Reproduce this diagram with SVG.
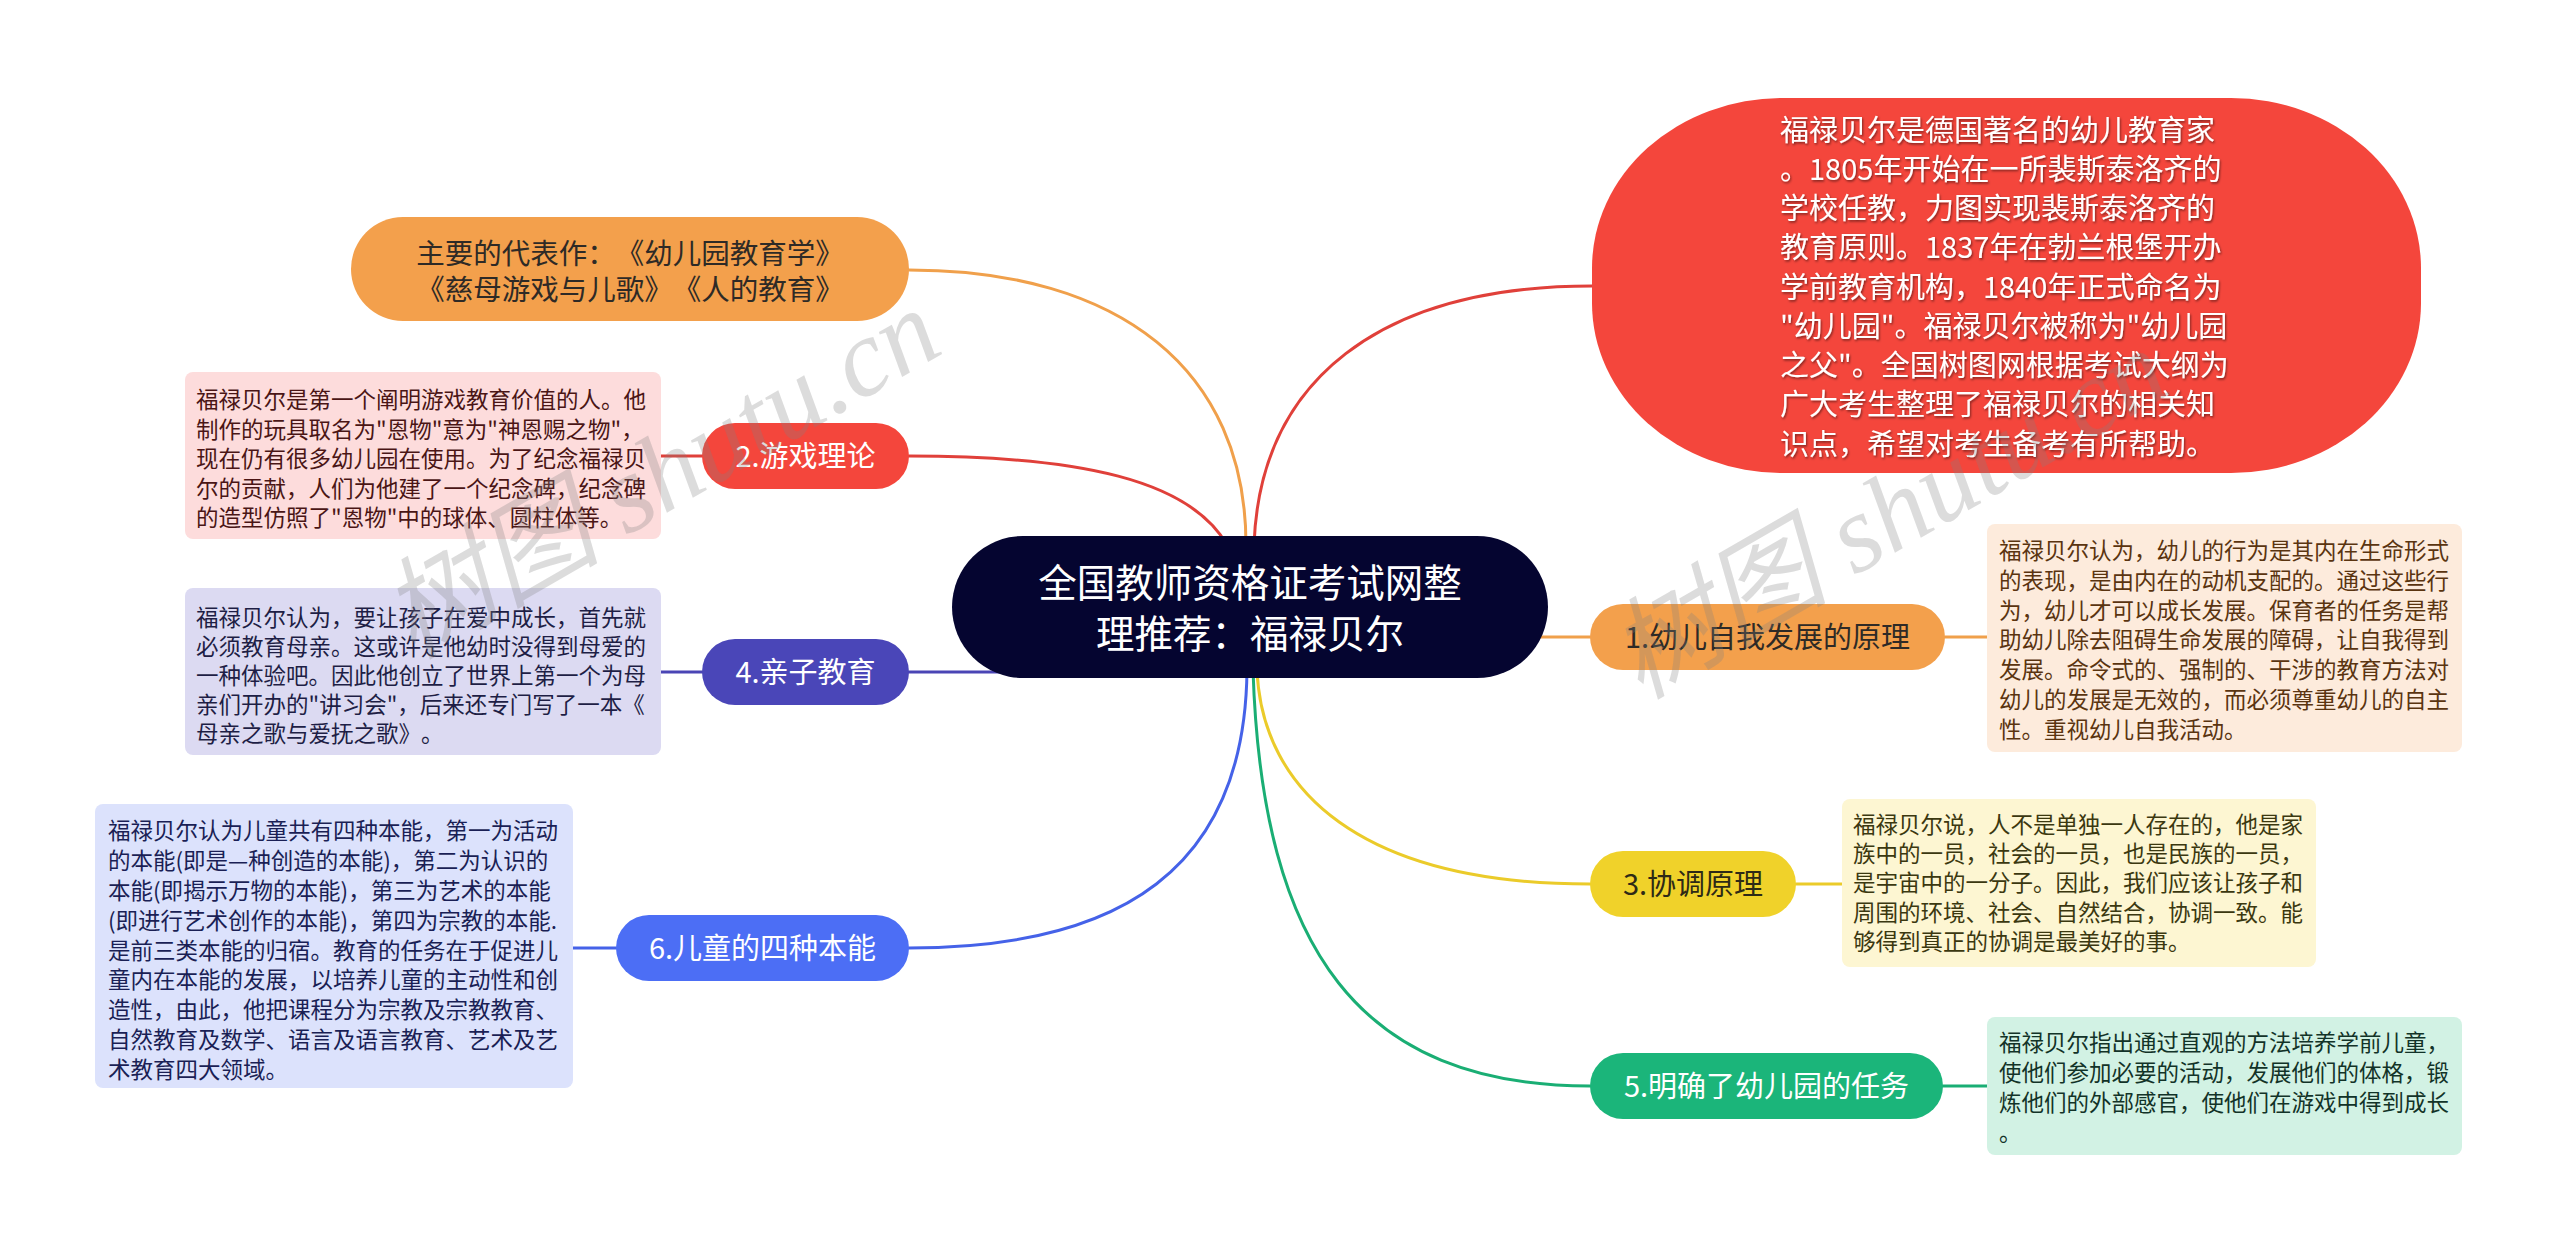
<svg xmlns="http://www.w3.org/2000/svg" width="2560" height="1253" viewBox="0 0 2560 1253">
<defs>
<style>
text{font-family:"Noto Sans CJK SC","Microsoft YaHei",sans-serif;text-spacing-trim:space-all}
.c{fill:none;stroke-width:3;stroke-linecap:round}
.dt{font-size:22.5px}
.bn{font-size:29px;text-anchor:middle}
.wm{font-family:"Liberation Serif","Noto Sans CJK SC",serif;font-style:italic;font-size:110px;fill:#808080;fill-opacity:.28}
</style>
<filter id="sh" x="-5%" y="-5%" width="110%" height="110%"><feDropShadow dx="1" dy="1.5" stdDeviation="1" flood-color="#000" flood-opacity=".5"/></filter>
</defs>
<rect width="2560" height="1253" fill="#fff"/>

<g id="connectors">
  <path class="c" stroke="#F0A04B" d="M909,270 C1120,270 1246,370 1246,545"/>
  <path class="c" stroke="#E0403A" d="M909,456 C1080,456 1190,480 1227,545"/>
  <path class="c" stroke="#E0403A" d="M1254,545 C1260,380 1380,286 1592,286"/>
  <path class="c" stroke="#4A45B5" d="M909,672 L1100,672"/>
  <path class="c" stroke="#F0A04B" d="M1400,637 L1590,637"/>
  <path class="c" stroke="#4562E8" d="M1247,670 C1245,870 1120,948 909,948"/>
  <path class="c" stroke="#EBCB2A" d="M1257,670 C1262,790 1360,884 1590,884"/>
  <path class="c" stroke="#1AAE74" d="M1253,670 C1262,950 1360,1086 1590,1086"/>
  <path class="c" stroke="#E0403A" d="M702,456 L661,456"/>
  <path class="c" stroke="#4A45B5" d="M702,672 L661,672"/>
  <path class="c" stroke="#4562E8" d="M616,948 L573,948"/>
  <path class="c" stroke="#F0A04B" d="M1945,637 L1987,637"/>
  <path class="c" stroke="#EBCB2A" d="M1796,884 L1842,884"/>
  <path class="c" stroke="#1AAE74" d="M1943,1086 L1987,1086"/>
</g>

<g id="root">
  <rect x="952" y="536" width="596" height="142" rx="71" fill="#050530"/>
  <text x="1250" y="597" font-size="38.5" fill="#fff" text-anchor="middle">全国教师资格证考试网整</text>
  <text x="1250" y="648" font-size="38.5" fill="#fff" text-anchor="middle">理推荐：福禄贝尔</text>
</g>

<g id="intro">
  <rect x="1592" y="98" width="829" height="375" rx="190" ry="170" fill="#F4463C"/>
  <g font-size="29" fill="#fff" filter="url(#sh)">
    <text x="1780" y="140.5">福禄贝尔是德国著名的幼儿教育家</text>
    <text x="1780" y="179.8">。1805年开始在一所裴斯泰洛齐的</text>
    <text x="1780" y="219">学校任教，力图实现裴斯泰洛齐的</text>
    <text x="1780" y="258.3">教育原则。1837年在勃兰根堡开办</text>
    <text x="1780" y="297.5">学前教育机构，1840年正式命名为</text>
    <text x="1780" y="336.8">"幼儿园"。福禄贝尔被称为"幼儿园</text>
    <text x="1780" y="376">之父"。全国树图网根据考试大纲为</text>
    <text x="1780" y="415.3">广大考生整理了福禄贝尔的相关知</text>
    <text x="1780" y="454.5">识点，希望对考生备考有所帮助。</text>
  </g>
</g>

<g id="works">
  <rect x="351" y="217" width="558" height="104" rx="52" fill="#F3A04C"/>
  <text x="630" y="263.5" font-size="28.5" fill="#2e2a26" text-anchor="middle">主要的代表作：《幼儿园教育学》</text>
  <text x="630" y="300" font-size="28.5" fill="#2e2a26" text-anchor="middle">《慈母游戏与儿歌》《人的教育》</text>
</g>

<g id="n2">
  <rect x="702" y="423" width="207" height="66" rx="33" fill="#F4463C"/>
  <text class="bn" x="805.5" y="466.5" fill="#fff">2.游戏理论</text>
</g>
<g id="n2d">
  <rect x="185" y="372" width="476" height="167" rx="8" fill="#FDDCDC"/>
  <g class="dt" fill="#4a1515">
    <text x="196" y="408">福禄贝尔是第一个阐明游戏教育价值的人。他</text>
    <text x="196" y="437.5">制作的玩具取名为"恩物"意为"神恩赐之物"，</text>
    <text x="196" y="467">现在仍有很多幼儿园在使用。为了纪念福禄贝</text>
    <text x="196" y="496.5">尔的贡献，人们为他建了一个纪念碑，纪念碑</text>
    <text x="196" y="526">的造型仿照了"恩物"中的球体、圆柱体等。</text>
  </g>
</g>

<g id="n4">
  <rect x="702" y="639" width="207" height="66" rx="33" fill="#4A46B8"/>
  <text class="bn" x="805.5" y="682.5" fill="#fff">4.亲子教育</text>
</g>
<g id="n4d">
  <rect x="185" y="588" width="476" height="167" rx="8" fill="#DCDAF2"/>
  <g class="dt" fill="#1e1e45">
    <text x="196" y="626">福禄贝尔认为，要让孩子在爱中成长，首先就</text>
    <text x="196" y="655">必须教育母亲。这或许是他幼时没得到母爱的</text>
    <text x="196" y="684">一种体验吧。因此他创立了世界上第一个为母</text>
    <text x="196" y="713">亲们开办的"讲习会"，后来还专门写了一本《</text>
    <text x="196" y="742">母亲之歌与爱抚之歌》。</text>
  </g>
</g>

<g id="n6">
  <rect x="616" y="915" width="293" height="66" rx="33" fill="#4C6EF5"/>
  <text class="bn" x="762.5" y="958.5" fill="#fff">6.儿童的四种本能</text>
</g>
<g id="n6d">
  <rect x="95" y="804" width="478" height="284" rx="8" fill="#DCE2FC"/>
  <g class="dt" fill="#1a1f55">
    <text x="108" y="839">福禄贝尔认为儿童共有四种本能，第一为活动</text>
    <text x="108" y="869">的本能(即是—种创造的本能)，第二为认识的</text>
    <text x="108" y="899">本能(即揭示万物的本能)，第三为艺术的本能</text>
    <text x="108" y="929">(即进行艺术创作的本能)，第四为宗教的本能.</text>
    <text x="108" y="959">是前三类本能的归宿。教育的任务在于促进儿</text>
    <text x="108" y="988">童内在本能的发展，以培养儿童的主动性和创</text>
    <text x="108" y="1018">造性，由此，他把课程分为宗教及宗教教育、</text>
    <text x="108" y="1048">自然教育及数学、语言及语言教育、艺术及艺</text>
    <text x="108" y="1078">术教育四大领域。</text>
  </g>
</g>

<g id="n1">
  <rect x="1590" y="604" width="355" height="66" rx="33" fill="#F3A04C"/>
  <text class="bn" x="1767.5" y="647.5" fill="#2e2a26">1.幼儿自我发展的原理</text>
</g>
<g id="n1d">
  <rect x="1987" y="524" width="475" height="228" rx="8" fill="#FDEBDC"/>
  <g class="dt" fill="#5a3410">
    <text x="1999" y="559">福禄贝尔认为，幼儿的行为是其内在生命形式</text>
    <text x="1999" y="589">的表现，是由内在的动机支配的。通过这些行</text>
    <text x="1999" y="619">为，幼儿才可以成长发展。保育者的任务是帮</text>
    <text x="1999" y="648">助幼儿除去阻碍生命发展的障碍，让自我得到</text>
    <text x="1999" y="678">发展。命令式的、强制的、干涉的教育方法对</text>
    <text x="1999" y="708">幼儿的发展是无效的，而必须尊重幼儿的自主</text>
    <text x="1999" y="738">性。重视幼儿自我活动。</text>
  </g>
</g>

<g id="n3">
  <rect x="1590" y="851" width="206" height="66" rx="33" fill="#F0D22A"/>
  <text class="bn" x="1693" y="894.5" fill="#2e2a16">3.协调原理</text>
</g>
<g id="n3d">
  <rect x="1842" y="799" width="474" height="168" rx="8" fill="#FDF6D2"/>
  <g class="dt" fill="#3b3810">
    <text x="1853" y="833">福禄贝尔说，人不是单独一人存在的，他是家</text>
    <text x="1853" y="862">族中的一员，社会的一员，也是民族的一员，</text>
    <text x="1853" y="891">是宇宙中的一分子。因此，我们应该让孩子和</text>
    <text x="1853" y="921">周围的环境、社会、自然结合，协调一致。能</text>
    <text x="1853" y="950">够得到真正的协调是最美好的事。</text>
  </g>
</g>

<g id="n5">
  <rect x="1590" y="1053" width="353" height="66" rx="33" fill="#1BB57A"/>
  <text class="bn" x="1766.5" y="1096.5" fill="#fff">5.明确了幼儿园的任务</text>
</g>
<g id="n5d">
  <rect x="1987" y="1017" width="475" height="138" rx="8" fill="#D2F2E4"/>
  <g class="dt" fill="#123328">
    <text x="1999" y="1051">福禄贝尔指出通过直观的方法培养学前儿童，</text>
    <text x="1999" y="1081">使他们参加必要的活动，发展他们的体格，锻</text>
    <text x="1999" y="1111">炼他们的外部感官，使他们在游戏中得到成长</text>
    <text x="1999" y="1141">。</text>
  </g>
</g>

<g id="watermark">
  <text class="wm" transform="translate(412,660) rotate(-30)">树图 shutu.cn</text>
  <text class="wm" transform="translate(1640,700) rotate(-30)">树图 shutu.cn</text>
</g>
</svg>
